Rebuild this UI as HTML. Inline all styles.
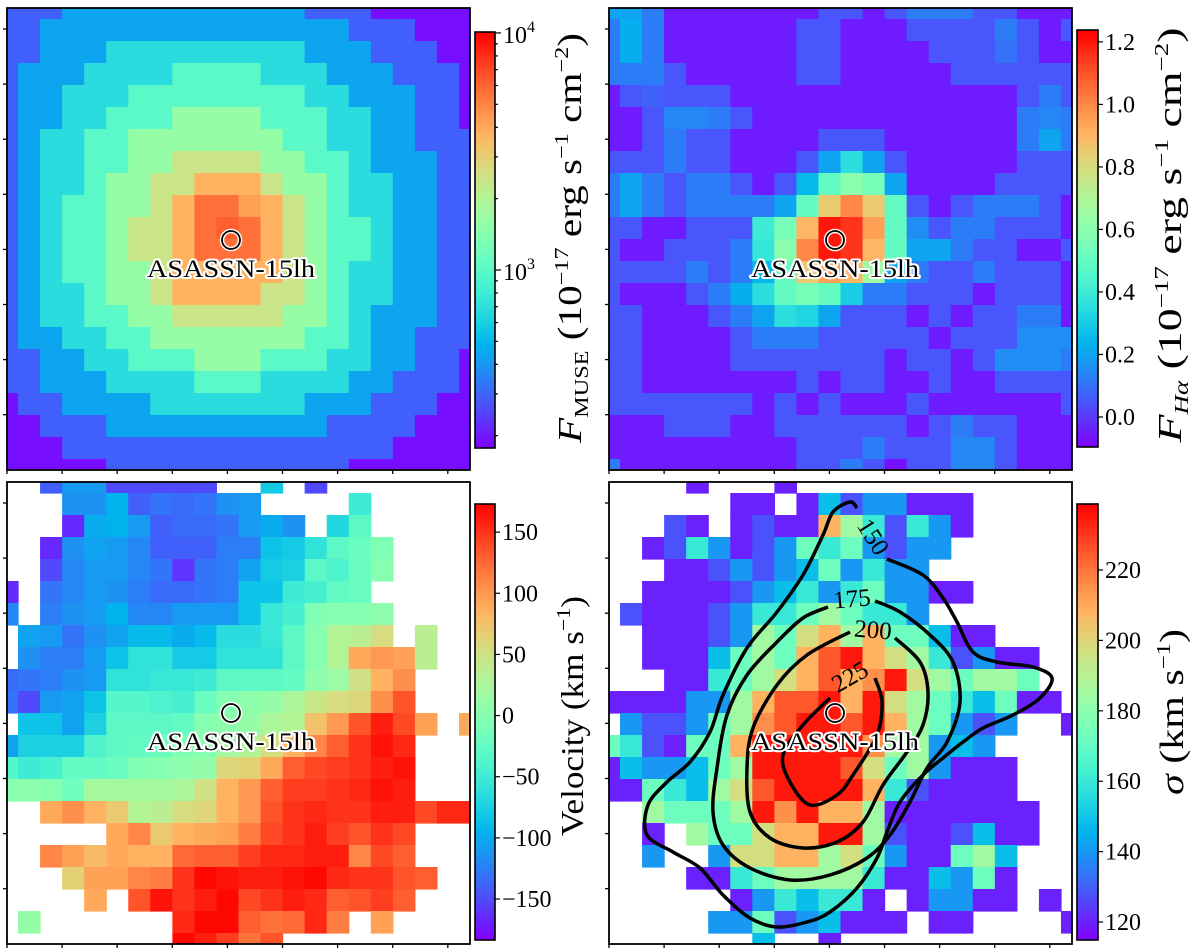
<!DOCTYPE html>
<html><head><meta charset="utf-8"><style>
html,body{margin:0;padding:0;background:#fff;}
svg{display:block;font-family:"Liberation Serif",serif;}
</style></head><body>
<svg id="fig" width="1200" height="951" viewBox="0 0 1200 951" xmlns="http://www.w3.org/2000/svg">
<defs>
<clipPath id="c0"><rect x="7" y="8" width="463" height="462"/></clipPath>
<clipPath id="c1"><rect x="609" y="8" width="463" height="462"/></clipPath>
<clipPath id="c2"><rect x="7" y="482" width="463" height="462"/></clipPath>
<clipPath id="c3"><rect x="609" y="482" width="463" height="462"/></clipPath>
</defs>
</svg>
<script>
const n = null;
// Top-left: MUSE flux (1e-17 erg/s/cm2), log colour scale
const tlFlux = [
[290,290,290,440,440,440,440,440,440,440,440,440,440,440,290,290,290,190,190,190,190,190],
[290,290,440,440,440,440,440,440,440,440,440,440,440,440,440,440,290,290,290,190,190,190],
[290,290,440,440,440,680,680,680,680,680,680,680,680,680,440,440,440,290,290,290,190,190],
[290,440,440,440,680,680,680,680,1000,1000,1000,1000,680,680,680,440,440,440,290,290,290,190],
[290,440,440,680,680,680,1000,1000,1000,1000,1000,1000,1000,1000,680,680,440,440,440,290,290,190],
[290,440,440,680,680,1000,1000,1000,1600,1600,1600,1600,1000,1000,1000,680,680,440,440,290,290,190],
[290,440,680,680,1000,1000,1600,1600,1600,1600,1600,1600,1600,1000,1000,680,680,440,440,290,290,290],
[290,440,680,680,1000,1000,1600,1600,2400,2400,2400,2400,1600,1600,1000,1000,680,440,440,440,290,290],
[290,440,680,680,1000,1600,1600,2400,2400,3700,3700,3700,2400,1600,1600,1000,680,680,440,440,290,290],
[290,440,680,1000,1000,1600,1600,2400,3700,5600,5600,4200,3700,2400,1600,1000,680,680,440,440,290,290],
[290,440,680,1000,1000,1600,2400,2400,3700,5600,6200,5600,3700,2400,1600,1000,1000,680,440,440,290,290],
[290,440,680,1000,1000,1600,2400,2400,3700,5600,5600,5600,3700,2400,1600,1000,1000,680,440,440,290,290],
[290,440,680,1000,1000,1600,1600,2400,3700,3700,3700,3700,3700,2400,1600,1000,680,680,440,440,290,290],
[290,440,680,680,1000,1600,1600,2400,3700,3700,3700,3700,2400,2400,1600,1000,680,680,440,440,290,290],
[290,440,680,680,1000,1000,1600,1600,2400,2400,2400,2400,2400,1600,1600,1000,680,440,440,440,290,290],
[290,440,440,680,680,1000,1000,1600,1600,1600,1600,1600,1600,1600,1000,1000,680,440,440,290,290,290],
[290,290,440,440,680,680,1000,1000,1000,1600,1600,1600,1000,1000,1000,680,680,440,440,290,290,190],
[290,290,440,440,440,680,680,680,680,1000,1000,1000,680,680,680,680,440,440,290,290,290,190],
[190,290,290,440,440,440,440,680,680,680,680,680,680,680,440,440,440,290,290,290,190,190],
[190,190,290,290,290,440,440,440,440,440,440,440,440,440,440,290,290,290,290,190,190,190],
[190,190,190,290,290,290,290,290,290,290,290,290,290,290,290,290,290,290,190,190,190,190],
[190,190,190,190,190,290,290,290,290,290,290,290,290,290,290,290,190,190,190,190,190,190]
];
// Top-right: H-alpha flux
const trHalpha = [
[0.2,0.2,0.12,-0.05,-0.05,-0.05,-0.05,-0.05,-0.05,-0.05,0.05,0.05,-0.05,0.05,0.12,0.12,0.12,0.05,0.05,-0.05,-0.05,-0.05],
[0.12,0.22,0.12,-0.05,-0.05,-0.05,-0.05,-0.05,-0.05,0.05,0.05,-0.05,-0.05,-0.05,0.05,0.05,0.05,0.05,0.12,0.05,-0.05,0.05],
[0.12,0.22,0.12,-0.05,-0.05,-0.05,-0.05,-0.05,-0.05,0.05,0.05,-0.05,-0.05,-0.05,-0.05,0.05,0.05,0.05,0.1,0.05,-0.05,-0.05],
[0.12,0.12,0.12,0.05,-0.05,-0.05,-0.05,-0.05,-0.05,0.05,0.05,-0.05,-0.05,-0.05,-0.05,-0.05,0.05,0.05,0.05,0.05,0.05,0.05],
[-0.05,0.05,0.07,0.05,0.05,0.05,-0.05,-0.05,-0.05,-0.05,-0.05,-0.05,-0.05,-0.05,-0.05,-0.05,-0.05,-0.05,-0.05,0.05,0.12,0.05],
[-0.05,-0.05,0.05,0.14,0.14,0.12,0.05,-0.05,-0.05,-0.05,-0.05,-0.05,-0.05,-0.05,-0.05,-0.05,-0.05,-0.05,-0.05,0.12,0.14,0.12],
[-0.05,-0.05,0.05,0.12,0.05,0.05,-0.05,-0.05,-0.05,-0.05,0.05,0.05,0.05,-0.05,-0.05,-0.05,-0.05,-0.05,-0.05,0.12,0.2,0.12],
[0.05,0.05,0.05,0.12,0.05,0.05,-0.05,-0.05,-0.05,0.05,0.2,0.35,0.2,0.05,-0.05,-0.05,-0.05,-0.05,-0.05,0.05,0.05,0.05],
[0.12,0.2,0.12,0.05,0.12,0.12,0.05,-0.05,0.05,0.25,0.5,0.6,0.55,0.2,-0.05,-0.05,-0.05,-0.05,0.05,0.05,0.05,0.05],
[0.12,0.2,0.12,0.05,0.12,0.12,0.12,0.12,0.2,0.5,0.85,1.0,0.85,0.5,0.05,-0.05,0.05,0.12,0.12,0.12,0.05,-0.05],
[0.05,0.05,-0.05,-0.05,0.05,0.05,0.05,0.4,0.55,0.9,1.2,1.15,0.95,0.5,0.15,0.05,0.12,0.12,0.05,0.05,0.05,-0.05],
[0.05,-0.05,-0.05,0.05,0.05,0.05,0.12,0.38,0.6,1.0,1.2,1.15,0.9,0.5,0.2,0.2,0.12,0.05,0.05,-0.05,-0.05,0.05],
[0.05,0.05,0.05,0.05,0.12,0.05,0.12,0.25,0.5,0.85,0.95,0.9,0.65,0.2,0.12,0.05,0.05,0.12,0.05,0.05,0.05,-0.05],
[0.05,-0.05,-0.05,-0.05,0.05,0.12,0.22,0.35,0.5,0.55,0.5,0.3,0.12,0.12,0.05,0.05,0.05,-0.05,0.05,0.05,0.05,-0.05],
[0.05,0.05,-0.05,-0.05,-0.05,0.05,0.12,0.2,0.35,0.32,0.2,0.05,0.05,0.05,-0.05,0.05,-0.05,0.05,0.05,0.12,0.12,-0.05],
[0.05,0.05,-0.05,-0.05,-0.05,-0.05,0.05,0.12,0.12,0.12,0.05,0.05,0.05,0.05,0.05,-0.05,0.05,0.05,0.05,0.15,0.15,0.15],
[0.05,0.05,-0.05,-0.05,-0.05,-0.05,0.05,0.05,0.05,0.05,0.05,0.05,0.05,-0.05,0.05,0.05,-0.05,0.05,0.15,0.15,0.15,0.12],
[0.05,0.05,-0.05,-0.05,-0.05,-0.05,-0.05,-0.05,-0.05,0.05,-0.05,0.05,0.05,-0.05,-0.05,0.05,-0.05,-0.05,0.05,0.05,0.05,0.05],
[0.05,0.05,0.05,0.05,0.05,0.05,0.05,-0.05,0.05,-0.05,0.05,-0.05,-0.05,-0.05,0.05,-0.05,-0.05,-0.05,-0.05,-0.05,-0.05,0.05],
[-0.05,-0.05,-0.05,0.05,0.05,0.05,-0.05,-0.05,0.05,0.05,0.05,0.05,0.05,0.05,-0.05,0.05,0.12,0.05,0.05,-0.05,-0.05,-0.05],
[-0.05,-0.05,-0.05,-0.05,-0.05,-0.05,-0.05,-0.05,-0.05,0.05,0.05,0.05,0.12,0.05,0.05,0.05,0.14,0.14,0.05,-0.05,-0.05,-0.05],
[0.12,-0.05,-0.05,-0.05,-0.05,-0.05,-0.05,-0.05,-0.05,0.05,0.05,0.12,0.05,-0.07,0.05,0.05,0.14,0.14,0.05,-0.05,-0.05,-0.05]
];
// Bottom-left: velocity (km/s), null = masked
const blVel = [
[n,n,-140,-110,-110,-150,-150,-150,-150,-150,n,n,-80,n,-150,n,n,n,n,n,n,n],
[n,n,n,-115,-115,-95,-140,-130,-135,-130,-115,-110,n,n,n,n,-50,n,n,n,n,n],
[n,n,n,-165,-100,-95,-110,-140,-135,-135,-130,-110,-100,-115,n,-70,-30,n,n,n,n,n],
[n,n,-165,-115,-105,-110,-120,-140,-140,-140,-125,-125,-85,-80,-60,-30,-20,-5,n,n,n,n],
[n,n,-150,-120,-110,-110,-120,-130,-160,-130,-125,-105,-80,-75,-30,-40,-20,0,n,n,n,n],
[-165,n,-130,-120,-110,-115,-125,-135,-135,-130,-125,-85,-85,-50,-45,-25,-20,n,n,n,n,n],
[-120,n,-125,-115,-110,-95,-120,-120,-110,-110,-110,-85,-55,-45,-5,0,0,5,n,n,n,n],
[n,-105,-110,-130,-115,-105,-90,-90,-100,-90,-65,-65,-55,-30,0,30,35,55,n,35,n,n],
[n,-115,-125,-125,-110,-85,-60,-60,-80,-80,-60,-60,-60,-30,0,30,90,100,95,35,n,n],
[-135,-130,-125,-115,-110,-60,-60,-55,-55,-50,-30,-30,-30,-25,5,15,50,85,105,n,n,n],
[-130,-150,-110,-105,-85,-35,-35,-40,-45,-20,0,5,10,25,45,55,60,105,135,n,n,n],
[n,-85,-85,-105,-75,-30,-30,-30,-25,0,5,10,25,30,75,100,135,160,140,95,n,90],
[-105,-75,-75,-75,-40,-30,-25,-20,-5,0,20,30,55,85,110,130,150,165,155,n,n,n],
[-35,-50,-45,-25,-25,-20,-5,0,5,10,60,65,90,130,140,145,150,160,165,n,n,n],
[0,5,0,-15,20,20,20,20,25,50,85,100,130,145,145,150,155,165,160,n,n,n],
[n,n,90,105,85,70,30,35,55,60,85,100,135,150,155,150,150,160,160,140,155,155],
[n,n,n,n,n,90,110,70,85,90,95,115,140,150,160,145,135,150,140,n,n,n],
[n,n,110,95,80,90,85,85,125,130,130,145,155,155,160,160,110,140,130,n,n,n],
[n,n,n,65,95,95,110,115,150,170,165,160,160,165,170,155,150,150,135,130,n,n],
[n,n,n,n,90,n,135,165,150,160,170,140,150,160,155,130,135,145,130,n,n,n],
[n,10,n,n,n,n,n,n,155,170,170,130,120,125,155,115,n,95,n,n,n,n],
[n,n,n,n,n,n,n,n,170,160,145,120,135,n,n,n,n,n,n,n,n,n]
];
// Bottom-right: velocity dispersion sigma (km/s)
const brSigma = [
[n,n,n,n,120,n,n,n,120,n,n,n,n,n,n,n,n,n,n,n,n,n],
[n,n,n,n,n,n,120,120,n,120,148,128,140,140,120,120,120,n,n,n,n,n],
[n,n,n,128,120,n,120,128,120,120,208,185,160,128,160,140,120,n,n,n,n,n],
[n,n,120,128,160,140,120,128,140,172,160,172,140,128,140,140,n,n,n,n,n,n],
[n,n,n,120,120,128,140,128,140,148,172,140,160,140,140,n,n,n,n,n,n,n],
[n,n,120,120,120,120,128,140,148,160,140,160,172,140,140,120,120,n,n,n,n,n],
[n,128,120,120,120,128,140,160,160,172,185,172,160,160,140,n,n,n,n,n,n,n],
[n,n,120,120,120,128,140,185,172,197,208,185,208,172,172,148,120,120,n,n,n,n],
[n,n,120,120,120,148,172,185,172,208,225,235,208,197,185,160,128,140,120,120,n,n],
[n,n,n,120,120,160,172,185,197,208,225,208,215,235,197,185,172,185,185,172,n,n],
[120,120,120,120,140,140,185,208,225,225,235,208,235,197,185,172,160,148,172,120,120,n],
[n,140,128,128,140,172,185,215,225,235,235,225,235,208,185,172,140,128,140,n,n,120],
[172,160,128,120,172,172,208,235,235,235,235,235,215,185,185,140,148,140,n,n,n,n],
[120,148,140,140,148,172,185,235,235,235,235,225,197,172,185,140,120,120,120,n,n,n],
[120,120,172,160,148,185,197,225,235,235,235,235,208,160,128,120,120,120,120,n,n,n],
[n,n,185,172,172,172,185,235,215,235,208,208,185,120,120,120,120,120,120,120,n,n],
[n,n,120,n,185,172,172,197,208,208,235,235,185,128,120,120,128,148,120,120,n,n],
[n,n,140,n,n,140,197,197,208,208,185,197,172,140,120,120,172,185,148,n,n,n],
[n,n,n,n,120,120,160,172,185,185,185,185,160,120,120,148,140,172,120,n,n,n],
[n,n,n,n,n,n,120,140,160,148,160,160,120,n,120,140,140,120,120,n,120,n],
[n,n,n,n,n,140,140,172,128,140,148,120,120,120,n,120,120,n,n,n,n,120],
[n,n,n,n,n,n,n,148,n,n,120,n,n,n,n,n,n,n,n,n,n,n]
];
const tlTicks = [1000, 10000];
const tlTickLabels = ["3", "4"];
const tlMinor = [200,300,400,500,600,700,800,900,2000,3000,4000,5000,6000,7000,8000,9000];
const trTicks = [0.0, 0.2, 0.4, 0.6, 0.8, 1.0, 1.2];
const trTickLabels = ["0.0","0.2","0.4","0.6","0.8","1.0","1.2"];
const blTicks = [-150, -100, -50, 0, 50, 100, 150];
const blTickLabels = ["\u2212150","\u2212100","\u221250","0","50","100","150"];
const brTicks = [120, 140, 160, 180, 200, 220];
const brTickLabels = ["120","140","160","180","200","220"];

const NS = "http://www.w3.org/2000/svg";
const svg = document.getElementById('fig');
function mk(tag, attrs, parent){
  const e = document.createElementNS(NS, tag);
  for (const k in attrs) e.setAttribute(k, attrs[k]);
  (parent || svg).appendChild(e);
  return e;
}
function rainbow(t){
  t = Math.max(0, Math.min(1, t));
  const r = Math.min(1, Math.abs(2*t - 0.5));
  const g = Math.sin(Math.PI*t);
  const b = Math.cos(Math.PI*t/2);
  return 'rgb(' + Math.round(r*255) + ',' + Math.round(g*255) + ',' + Math.round(b*255) + ')';
}
const scales = [
  {norm: v => (Math.log10(v) - 2.249)/(4.004 - 2.249), ax: {x:7,y:8,w:463,h:462}, cb:{x:475,y:32,w:20,h:416}, clip:'c0', data: tlFlux, name:'muse-flux'},
  {norm: v => (v + 0.096)/(1.238 + 0.096), ax: {x:609,y:8,w:463,h:462}, cb:{x:1077,y:30,w:21,h:417}, clip:'c1', data: trHalpha, name:'halpha-flux'},
  {norm: v => (v + 183.5)/(173 + 183.5), ax: {x:7,y:482,w:463,h:462}, cb:{x:475,y:504,w:20,h:436}, clip:'c2', data: blVel, name:'velocity'},
  {norm: v => (v - 114.9)/(238.75 - 114.9), ax: {x:609,y:482,w:463,h:462}, cb:{x:1077,y:504,w:21,h:436}, clip:'c3', data: brSigma, name:'dispersion'}
];

scales.forEach((s, pi) => {
  const a = s.ax;
  const g = mk('g', {'clip-path': 'url(#' + s.clip + ')'});
  
  
  const nr = s.data.length, nc = s.data[0].length;
  const cw = a.w/(nc-1), ch = a.h/(nr-1);
  s.data.forEach((row, j) => {
    row.forEach((v, i) => {
      if (v === null) return;
      const cx = a.x + i*cw, cy = a.y + j*ch;
      const r = mk('rect', {x:(cx - cw/2).toFixed(2), y:(cy - ch/2).toFixed(2), width:(cw+0.6).toFixed(2), height:(ch+0.6).toFixed(2), fill: rainbow(s.norm(v))}, g);
      
      
    });
  });
  const gid = 'grad' + pi;
  const defs = svg.querySelector('defs');
  const lg = mk('linearGradient', {id: gid, x1:0, y1:1, x2:0, y2:0}, defs);
  for (let k = 0; k <= 40; k++) mk('stop', {offset: k/40, 'stop-color': rainbow(k/40)}, lg);
  const cb = s.cb;
  const bar = mk('rect', {x:cb.x, y:cb.y, width:cb.w, height:cb.h, fill:'url(#' + gid + ')', stroke:'#000', 'stroke-width':1.6});
  
  
});

function cbY(s, v){ return s.cb.y + s.cb.h*(1 - s.norm(v)); }
function cbTick(s, v, len){
  const y = cbY(s, v);
  const t = mk('line', {x1:s.cb.x + s.cb.w, x2:s.cb.x + s.cb.w + len, y1:y, y2:y, stroke:'#000', 'stroke-width':1.2});
  
  
  return y;
}
function cbLabel(s, y, str){
  const t = mk('text', {x:s.cb.x + s.cb.w + 7, y:y + 8, 'font-size':24, fill:'#000'});
  t.textContent = str;
  
  
  return t;
}
tlMinor.forEach(v => cbTick(scales[0], v, 3));
tlTicks.forEach((v, k) => {
  const y = cbTick(scales[0], v, 6);
  const t = mk('text', {x:scales[0].cb.x + scales[0].cb.w + 8, y:y + 10, 'font-size':24, fill:'#000'});
  
  
  const b = mk('tspan', {}, t); b.textContent = '10';
  const sp = mk('tspan', {dy:-11, 'font-size':16}, t); sp.textContent = tlTickLabels[k];
});
trTicks.forEach((v, k) => cbLabel(scales[1], cbTick(scales[1], v, 5), trTickLabels[k]));
blTicks.forEach((v, k) => cbLabel(scales[2], cbTick(scales[2], v, 5), blTickLabels[k]));
brTicks.forEach((v, k) => cbLabel(scales[3], cbTick(scales[3], v, 5), brTickLabels[k]));

scales.forEach(s => {
  const a = s.ax;
  const f = mk('rect', {x:a.x, y:a.y, width:a.w, height:a.h, fill:'none', stroke:'#000', 'stroke-width':1.8});
  
  
  for (let k = 0; k < 9; k++) {
    const x = a.x + k*55.1;
    const t = mk('line', {x1:x, x2:x, y1:a.y + a.h, y2:a.y + a.h + 4, stroke:'#000', 'stroke-width':1.3});
    
    
  }
  for (let k = 0; k < 8; k++) {
    const y = a.y + 21 + k*55.1;
    const t = mk('line', {x1:a.x - 4, x2:a.x, y1:y, y2:y, stroke:'#000', 'stroke-width':1.3});
    
    
  }
});

function smooth(pts, closed){
  const P = pts.slice();
  const N = P.length;
  let d = 'M' + P[0][0] + ',' + P[0][1];
  const last = closed ? N : N - 1;
  for (let i = 0; i < last; i++) {
    const p0 = P[(i - 1 + N) % N], p1 = P[i], p2 = P[(i + 1) % N], p3 = P[(i + 2) % N];
    const q0 = (!closed && i === 0) ? p1 : p0;
    const q3 = (!closed && i === N - 2) ? p2 : p3;
    const c1 = [p1[0] + (p2[0] - q0[0])/6, p1[1] + (p2[1] - q0[1])/6];
    const c2 = [p2[0] - (q3[0] - p1[0])/6, p2[1] - (q3[1] - p1[1])/6];
    d += 'C' + c1[0].toFixed(1) + ',' + c1[1].toFixed(1) + ' ' + c2[0].toFixed(1) + ',' + c2[1].toFixed(1) + ' ' + p2[0] + ',' + p2[1];
  }
  return d;
}
const contourGroup = mk('g', {'clip-path':'url(#c3)', fill:'none', stroke:'#000', 'stroke-width':3.5, 'stroke-linejoin':'round'});


const cLines = [
  {lab:'150', pts:[[887,559],[923,575],[943,598],[957,622],[973,652],[997,662],[1033,667],[1052,678],[1040,698],[1013,715],[983,728],[963,742],[943,758],[923,775],[900,802],[887,832],[877,858],[857,888],[830,912],[807,922],[777,927],[750,918],[723,895],[700,868],[673,852],[647,835],[648,805],[667,782],[690,762],[710,732],[723,695],[747,648],[777,612],[803,575],[823,535],[833,512],[850,502],[857,508]]},
  {lab:'175', pts:[[875,601],[900,612],[930,635],[953,662],[960,702],[947,742],[927,768],[910,802],[890,835],[867,858],[830,875],[790,880],[750,868],[723,845],[713,812],[717,768],[727,715],[747,675],[777,642],[803,618],[828,607]]},
  {lab:'200', pts:[[895,638],[920,662],[928,692],[923,725],[907,752],[883,785],[863,822],[837,842],[803,848],[770,838],[750,812],[747,768],[753,728],[777,685],[807,655],[850,632]]},
  {lab:'225', pts:[[875,678],[882,702],[877,735],[853,775],[837,795],[810,805],[790,782],[783,755],[803,725],[830,698]]}
];
cLines.forEach(c => {
  const p = mk('path', {d: smooth(c.pts, false)}, contourGroup);
  
  
});
const cLabels = [['150',873,545,58],['175',852,607,-5],['200',873,638,5],['225',850,685,-30]];
cLabels.forEach(l => {
  const t = mk('text', {x:l[1], y:l[2], 'font-size':25, 'text-anchor':'middle', transform:'rotate(' + l[3] + ' ' + l[1] + ' ' + (l[2]-8) + ')', fill:'#000'});
  t.textContent = l[0];
  
  
});

[[231,240],[835,240],[231,713],[835,713]].forEach(p => {
  const c0 = mk('circle', {cx:p[0], cy:p[1], r:9, fill:'none', stroke:'#fff', 'stroke-width':4.5});
  
  
  const c = mk('circle', {cx:p[0], cy:p[1], r:9, fill:'none', stroke:'#000', 'stroke-width':1.8});
  
  
  const t = mk('text', {x:p[0], y:p[1] + 37, 'font-size':25, 'text-anchor':'middle', textLength:168, lengthAdjust:'spacingAndGlyphs', fill:'#000', stroke:'#fff', 'stroke-width':4, 'paint-order':'stroke', 'stroke-linejoin':'round'});
  t.textContent = 'ASASSN-15lh';
  
  
});

function rotLabel(x, y, len, name, parts, size){
  const t = mk('text', {x:x, y:y, 'font-size':size, 'text-anchor':'middle', transform:'rotate(-90 ' + x + ' ' + y + ')', textLength:len, lengthAdjust:'spacingAndGlyphs', fill:'#000'});
  
  
  parts.forEach(pt => {
    const s = mk('tspan', pt[1], t);
    s.textContent = pt[0];
  });
}
rotLabel(581, 238, 410, 'muse-colorbar-title', [
  ['F', {'font-style':'italic'}], ['MUSE', {'font-size':20, dy:7}], [' (10', {dy:-7}], ['\u221217', {'font-size':20, dy:-13}],
  [' erg s', {dy:13}], ['\u22121', {'font-size':20, dy:-13}], [' cm', {dy:13}], ['\u22122', {'font-size':20, dy:-13}], [')', {dy:13}]
], 34);
rotLabel(1181, 235, 415, 'halpha-colorbar-title', [
  ['F', {'font-style':'italic'}], ['H\u03b1', {'font-size':20, dy:7, 'font-style':'italic'}], [' (10', {dy:-7}], ['\u221217', {'font-size':20, dy:-13}],
  [' erg s', {dy:13}], ['\u22121', {'font-size':20, dy:-13}], [' cm', {dy:13}], ['\u22122', {'font-size':20, dy:-13}], [')', {dy:13}]
], 34);
rotLabel(583, 716, 240, 'velocity-colorbar-title', [
  ['Velocity (km s', {}], ['\u22121', {'font-size':20, dy:-13}], [')', {dy:13}]
], 32);
rotLabel(1183, 712, 166, 'sigma-colorbar-title', [
  ['\u03c3', {'font-style':'italic'}], [' (km s', {}], ['\u22121', {'font-size':20, dy:-13}], [')', {dy:13}]
], 34);
</script>
</body></html>
